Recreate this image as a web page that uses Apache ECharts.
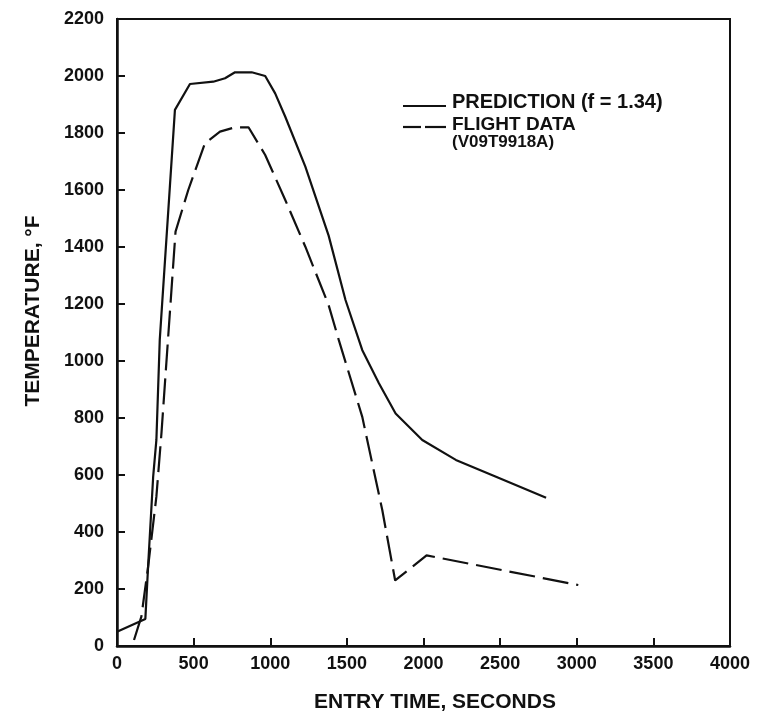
<!DOCTYPE html>
<html>
<head>
<meta charset="utf-8">
<script src="https://cdn.jsdelivr.net/npm/echarts@6/dist/echarts.min.js"></script>
<style>html,body{margin:0;padding:0;background:#fff}#c{width:758px;height:713px}</style>
</head>
<body>
<div id="c"></div>
<script>
// Prediction (f = 1.34) — solid line
const predTime = [0, 185, 205, 236, 257, 279, 345, 378, 476, 628, 705, 770, 879, 967, 1032, 1098, 1229, 1381, 1491, 1600, 1709, 1818, 1992, 2211, 2473, 2800];
const predTemp = [50, 95, 300, 594, 723, 1074, 1612, 1881, 1972, 1980, 1992, 2013, 2013, 2000, 1939, 1857, 1682, 1440, 1214, 1039, 922, 816, 723, 653, 594, 520];
// Flight data (V09T9918A) — dashed line
const flightTime = [111, 159, 203, 257, 290, 334, 382, 465, 574, 672, 770, 858, 967, 1098, 1229, 1381, 1447, 1600, 1731, 1815, 2020, 3010];
const flightTemp = [21, 103, 278, 524, 746, 1085, 1454, 1600, 1764, 1805, 1820, 1820, 1723, 1565, 1401, 1196, 1074, 805, 477, 230, 318, 214];

const xTicks = [0, 500, 1000, 1500, 2000, 2500, 3000, 3500, 4000];
const yTicks = [0, 200, 400, 600, 800, 1000, 1200, 1400, 1600, 1800, 2000, 2200];

const FONT = '"Liberation Sans", Arial, sans-serif';
const INK = '#111';

const chart = echarts.init(document.getElementById('c'), null, {renderer: 'canvas'});
chart.setOption({
  backgroundColor: '#fff',
  animation: false,
  grid: {left: 117, right: 28, top: 19, bottom: 67, show: true, borderColor: INK, borderWidth: 2},
  xAxis: {
    type: 'value', min: xTicks[0], max: xTicks[xTicks.length - 1], interval: 500,
    axisLine: {show: true, lineStyle: {color: INK, width: 2.5}},
    axisTick: {show: true, inside: true, length: 8, lineStyle: {color: INK, width: 2}},
    splitLine: {show: false},
    axisLabel: {margin: 9, color: INK, fontFamily: FONT, fontWeight: 'bold', fontSize: 18,
      formatter: v => String(v)}
  },
  yAxis: {
    type: 'value', min: yTicks[0], max: yTicks[yTicks.length - 1], interval: 200,
    axisLine: {show: true, lineStyle: {color: INK, width: 2.5}},
    axisTick: {show: true, inside: true, length: 8, lineStyle: {color: INK, width: 2}},
    splitLine: {show: false},
    axisLabel: {margin: 13, color: INK, fontFamily: FONT, fontWeight: 'bold', fontSize: 18,
      formatter: v => String(v)}
  },
  series: [
    {
      name: 'PREDICTION (f = 1.34)', type: 'line', symbol: 'none', smooth: false,
      data: predTime.map((t, i) => [t, predTemp[i]]),
      lineStyle: {color: INK, width: 2.2}
    },
    {
      name: 'FLIGHT DATA (V09T9918A)', type: 'line', symbol: 'none', smooth: false,
      data: flightTime.map((t, i) => [t, flightTemp[i]]),
      lineStyle: {color: INK, width: 2.2, type: [26, 8]}
    }
  ],
  graphic: [
    {type: 'text', x: 435, y: 702,
     style: {text: 'ENTRY TIME, SECONDS', fill: INK, font: 'bold 21px ' + FONT, align: 'center', verticalAlign: 'middle'}},
    {type: 'text', x: 33, y: 311, rotation: Math.PI / 2,
     style: {text: 'TEMPERATURE, °F', fill: INK, font: 'bold 21px ' + FONT, align: 'center', verticalAlign: 'middle'}},
    {type: 'line', shape: {x1: 403, y1: 106, x2: 446, y2: 106}, style: {stroke: INK, lineWidth: 2.2}},
    {type: 'text', x: 452, y: 102, style: {text: 'PREDICTION (f = 1.34)', fill: INK, font: 'bold 20px ' + FONT, verticalAlign: 'middle'}},
    {type: 'line', shape: {x1: 403, y1: 127, x2: 421, y2: 127}, style: {stroke: INK, lineWidth: 2.2}},
    {type: 'line', shape: {x1: 425, y1: 127, x2: 446, y2: 127}, style: {stroke: INK, lineWidth: 2.2}},
    {type: 'text', x: 452, y: 125, style: {text: 'FLIGHT DATA', fill: INK, font: 'bold 19px ' + FONT, verticalAlign: 'middle'}},
    {type: 'text', x: 452, y: 142, style: {text: '(V09T9918A)', fill: INK, font: 'bold 17px ' + FONT, verticalAlign: 'middle'}}
  ]
});
</script>
</body>
</html>
